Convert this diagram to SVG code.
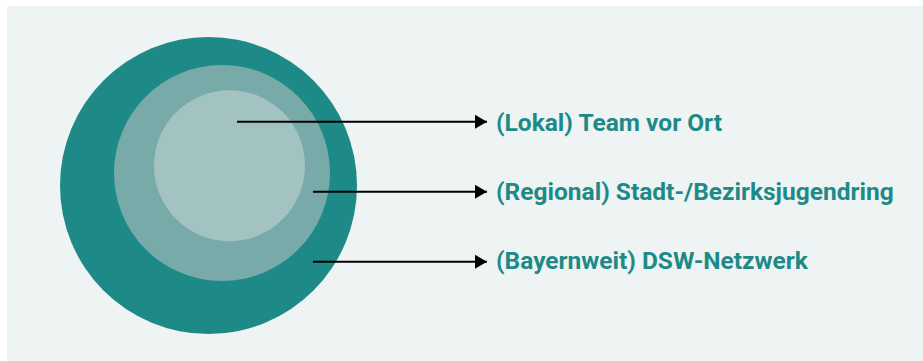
<svg xmlns="http://www.w3.org/2000/svg" width="923" height="361" viewBox="0 0 923 361">
  <defs>
    <marker id="arrow" markerUnits="userSpaceOnUse" markerWidth="13" markerHeight="16" refX="12" refY="8" orient="auto">
      <path d="M0,1 L12,8 L0,15 Z" fill="#000"/>
    </marker>
    <style>
      .lbl { font-family: Roboto, "Liberation Sans", sans-serif; font-weight: bold; font-size: 24.5px; fill: #1e8a87; }
      .conn { stroke: #000; stroke-width: 2; fill: none; }
    </style>
  </defs>
  <rect x="7" y="6" width="916" height="355" fill="#eef3f3"/>
  <g id="outer">
    <circle cx="208.5" cy="185.5" r="148.5" fill="#1d8a87"/>
  </g>
  <g id="middle">
    <circle cx="222" cy="173" r="108" fill="#77aaa8"/>
  </g>
  <g id="inner">
    <circle cx="229.5" cy="165.7" r="75.5" fill="#a3c3c3"/>
  </g>
  <g id="connectors">
    <line class="conn" x1="237" y1="121.7" x2="487" y2="121.7" marker-end="url(#arrow)"/>
    <line class="conn" x1="313" y1="191.7" x2="487" y2="191.7" marker-end="url(#arrow)"/>
    <line class="conn" x1="313" y1="261.7" x2="487" y2="261.7" marker-end="url(#arrow)"/>
  </g>
  <g id="label-lokal">
    <text class="lbl" x="496" y="131">(Lokal) Team vor Ort</text>
  </g>
  <g id="label-regional">
    <text class="lbl" x="496" y="200">(Regional) Stadt-/Bezirksjugendring</text>
  </g>
  <g id="label-bayernweit">
    <text class="lbl" x="496" y="269">(Bayernweit) DSW-Netzwerk</text>
  </g>
</svg>
